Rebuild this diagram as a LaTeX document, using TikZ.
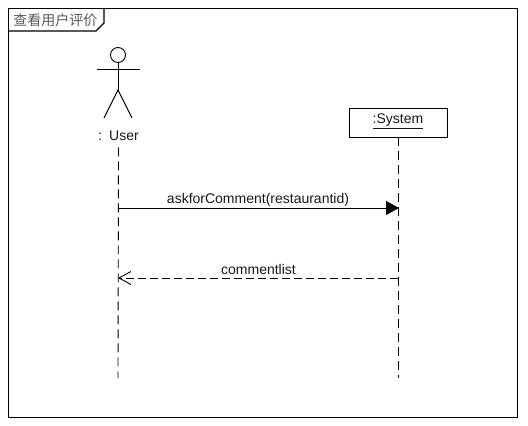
\documentclass[tikz,border=0pt]{standalone}
\usepackage{fontspec}
\setmainfont{Liberation Sans}
\newfontfamily\cjk{Noto Sans CJK SC}
\usetikzlibrary{arrows.meta}
\tikzset{
    lifeline/.style={draw, line width=0.9pt, dash pattern=on 9pt off 5pt},
    msglabel/.style={font=\fontsize{14}{16}\selectfont, inner sep=0pt, text=black!90},
}
\begin{document}
\begin{tikzpicture}[x=1pt, y=-1pt, line width=0.95pt]
        \useasboundingbox (0,0) rectangle (528,426);
        \fill[white] (0,0) rectangle (528,426);

        \node[draw, minimum width=509pt, minimum height=409pt, anchor=north west, line width=1.1pt, inner sep=0pt](frame) at (8,8) {};
        \node[msglabel, anchor=west, text=black!65, font=\cjk\fontsize{14}{16}\selectfont](title) at (13,20) {查看用户评价};
        \draw[line width=1.1pt] (104,8) -- (104,23) -- (96,31) -- (8,31);

        \node[draw, circle, minimum size=15pt, inner sep=0pt](head) at (118,55) {};
        \coordinate (armleft) at (97,69);
        \coordinate (armright) at (140,69);
        \coordinate (hip) at (118,90);
        \coordinate (legleft) at (104,118);
        \coordinate (legright) at (132,118);
        \draw (armleft) -- (armright);
        \draw (head) -- (hip);
        \draw (legleft) -- (hip) -- (legright);
        \node[msglabel](user) at (118.5,136) {:\hspace{7pt}User};

        \node[draw, minimum width=98pt, minimum height=29pt, inner sep=0pt](system) at (398,122.5) {};
        \node[msglabel](systemtext) at (398,121) {\underline{:System}};

        \coordinate (userend) at (118,378);
        \coordinate (systemend) at (398,378);
        \draw[lifeline] (user.south) ++(0,6) -- (userend);
        \draw[lifeline] (system.south) -- (systemend);

        \coordinate (askstart) at (118,208);
        \coordinate (askend) at (399,208);
        \coordinate (liststart) at (398,278);
        \coordinate (listend) at (118,278);
        \draw[-{Triangle[length=13pt, width=14pt]}] (askstart) -- (askend);
        \draw[dash pattern=on 8pt off 4pt, -{Straight Barb[length=12pt, width=13pt, line width=0.9pt]}] (liststart) -- (listend);
        \node[msglabel](ask) at (258,200) {askforComment(restaurantid)};
        \node[msglabel](list) at (258.5,269.5) {commentlist};
\end{tikzpicture}
\end{document}
